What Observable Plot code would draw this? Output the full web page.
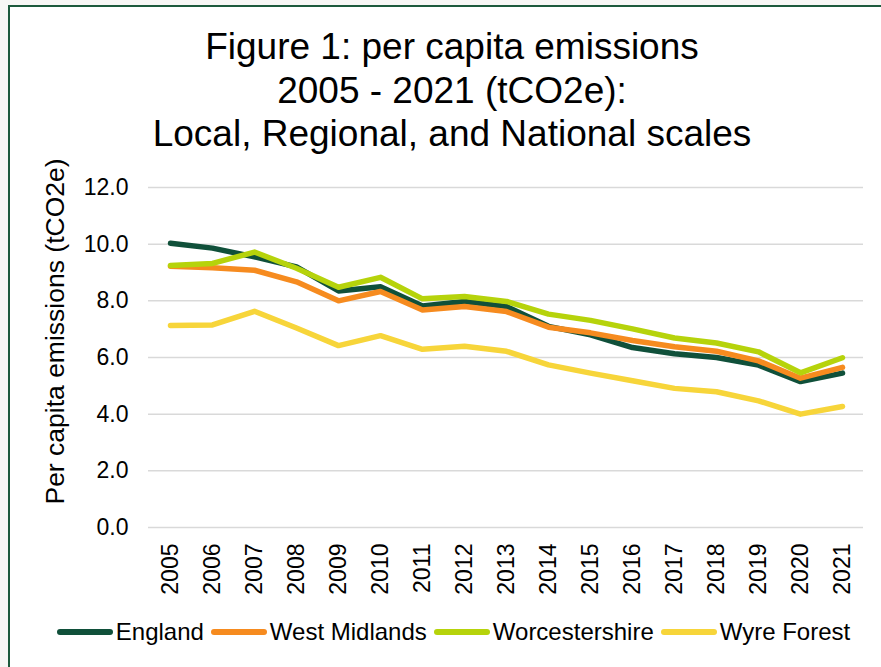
<!DOCTYPE html>
<html>
<head>
<meta charset="utf-8">
<script src="https://cdn.jsdelivr.net/npm/d3@7"></script>
<script src="https://cdn.jsdelivr.net/npm/@observablehq/plot@0.6"></script>
<style>
  html, body { margin: 0; padding: 0; width: 881px; height: 667px; overflow: hidden; background: #f7f7f5;
    font-family: "Liberation Sans", Arial, sans-serif; color: #000; }
  #frame { position: absolute; left: 8px; top: 5px; width: 900px; height: 700px; background: #fff;
    border: 2px solid #1d5a3d; box-sizing: border-box; }
  #title { position: absolute; left: 0; top: 25px; width: 904px; text-align: center; font-size: 37px;
    line-height: 43.5px; }
  #chart { position: absolute; left: 0; top: 165px; }
  #legend { position: absolute; left: 0; top: 618px; width: 907px; display: flex; justify-content: center;
    align-items: center; font-size: 24px; line-height: 27px; white-space: nowrap; }
  .item { display: flex; align-items: center; margin: 0 3.5px; }
  .sw { display: inline-block; width: 56px; height: 6px; border-radius: 3px; margin-right: 3px; }
</style>
</head>
<body>
<div id="frame"></div>
<div id="title"></div>
<div id="chart"></div>
<div id="legend"></div>
<script>
const titleLines = ["Figure 1: per capita emissions", "2005 - 2021 (tCO2e):", "Local, Regional, and National scales"];
const yLabel = "Per capita emissions (tCO2e)";
const years = ["2005","2006","2007","2008","2009","2010","2011","2012","2013","2014","2015","2016","2017","2018","2019","2020","2021"];
const yTicks = [0, 2, 4, 6, 8, 10, 12];
const seriesNames = ["England", "West Midlands", "Worcestershire", "Wyre Forest"];
const seriesColors = ["#10503a", "#f68b1f", "#b6d30b", "#f7d53a"];
const england        = [10.03, 9.86, 9.55, 9.20, 8.35, 8.50, 7.82, 7.98, 7.80, 7.10, 6.80, 6.35, 6.13, 6.00, 5.73, 5.15, 5.45];
const westMidlands   = [9.22, 9.17, 9.08, 8.67, 8.00, 8.33, 7.68, 7.80, 7.62, 7.07, 6.87, 6.60, 6.38, 6.22, 5.88, 5.27, 5.65];
const worcestershire = [9.25, 9.32, 9.72, 9.15, 8.48, 8.83, 8.07, 8.15, 7.98, 7.53, 7.31, 7.01, 6.69, 6.51, 6.20, 5.46, 5.99];
const wyreForest     = [7.13, 7.15, 7.63, 7.04, 6.42, 6.77, 6.29, 6.40, 6.22, 5.74, 5.45, 5.18, 4.91, 4.79, 4.47, 4.00, 4.27];

const seriesValues = [england, westMidlands, worcestershire, wyreForest];
const rows = [];
seriesNames.forEach((name, s) => years.forEach((yr, i) => rows.push({name, year: yr, value: seriesValues[s][i]})));

document.getElementById("title").innerHTML = titleLines.map(t => `<div>${t}</div>`).join("");

const chart = Plot.plot({
  width: 881,
  height: 445,
  marginTop: 22,
  marginBottom: 83,
  marginLeft: 148,
  marginRight: 18,
  style: {fontFamily: "'Liberation Sans', Arial, sans-serif", fontSize: "23px", color: "#000", background: "transparent", overflow: "visible"},
  x: {type: "point", domain: years, padding: 0.5},
  y: {domain: [0, 12]},
  color: {domain: seriesNames, range: seriesColors},
  marks: [
    Plot.gridY(yTicks, {stroke: "#d9d9d9", strokeWidth: 1.5, strokeOpacity: 1}),
    Plot.axisY(yTicks, {tickSize: 0, tickPadding: 20, tickFormat: d3.format(".1f"), fontSize: 23, label: null}),
    Plot.axisX({tickSize: 0, tickPadding: 16, tickRotate: -90, fontSize: 23, label: null}),
    Plot.lineY(rows, {x: "year", y: "value", z: "name", stroke: "name", strokeWidth: 5.5,
      strokeLinejoin: "round", strokeLinecap: "round"}),
    Plot.text([yLabel], {text: d => d, frameAnchor: "left", rotate: -90, dx: -92.5, dy: -26,
      fontSize: 26.5, textAnchor: "middle", lineAnchor: "middle", fill: "#000"})
  ]
});
document.getElementById("chart").appendChild(chart);

document.getElementById("legend").innerHTML = seriesNames.map((n, i) =>
  `<span class="item"><span class="sw" style="background:${seriesColors[i]}"></span>${n}</span>`).join("");
</script>
</body>
</html>
